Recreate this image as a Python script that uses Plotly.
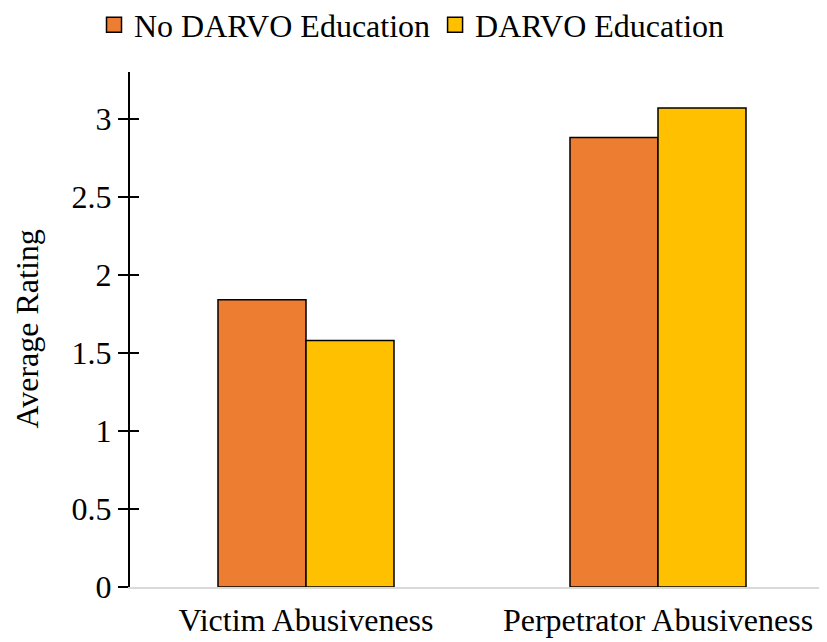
import plotly.graph_objects as go

categories = ["Victim Abusiveness", "Perpetrator Abusiveness"]
no_edu = [1.84, 2.88]
edu = [1.58, 3.07]
series_names = ["No DARVO Education", "DARVO Education"]
colors = ["#ED7D31", "#FFC000"]
tick_vals = [0, 0.5, 1, 1.5, 2, 2.5, 3]
tick_text = ["0", "0.5", "1", "1.5", "2", "2.5", "3"]
y_title = "Average Rating"

FONT = "Liberation Serif, Times New Roman, serif"

fig = go.Figure()
for vals, name, col in zip([no_edu, edu], series_names, colors):
    fig.add_trace(go.Bar(x=categories, y=vals, name=name, showlegend=False,
                         marker=dict(color=col, line=dict(color="black", width=1.5))))
# legend entries with square swatches
for name, col in zip(series_names, colors):
    fig.add_trace(go.Scatter(x=[None], y=[None], mode="markers", name=name,
                             marker=dict(symbol="square", size=15, color=col,
                                         line=dict(color="black", width=1.5))))
# invisible trace to activate the inside-tick axis
fig.add_trace(go.Scatter(x=[categories[0]], y=[0], yaxis="y2", mode="markers",
                         marker=dict(opacity=0), showlegend=False, hoverinfo="skip"))

fig.update_layout(
    width=827, height=642,
    paper_bgcolor="white", plot_bgcolor="white",
    barmode="group", bargap=0.5, bargroupgap=0,
    margin=dict(l=122, r=1, t=64, b=63, pad=0),
    font=dict(family=FONT, size=32, color="black"),
    showlegend=True,
    legend=dict(orientation="h", x=0.104, xanchor="left", xref="container",
                y=0.9735, yanchor="middle", yref="container",
                font=dict(size=32, family=FONT, color="black"),
                itemwidth=30, traceorder="normal", tracegroupgap=0,
                bgcolor="rgba(0,0,0,0)", borderwidth=0),
    xaxis=dict(type="category", range=[-0.5, 1.5], showline=True, linecolor="#D9D9D9",
               linewidth=2, ticks="", showgrid=False, zeroline=False,
               ticklabelstandoff=4, tickfont=dict(size=32, family=FONT)),
    yaxis=dict(range=[0, 3.3], tickvals=tick_vals, ticktext=tick_text,
               showline=True, linecolor="black", linewidth=2,
               ticks="outside", ticklen=10, tickwidth=1.5, tickcolor="black",
               showgrid=False, zeroline=False,
               tickfont=dict(size=32, family=FONT)),
    yaxis2=dict(range=[0, 3.3], tickvals=tick_vals, overlaying="y", side="left",
                showticklabels=False, ticks="inside", ticklen=9, tickwidth=1.5,
                tickcolor="black", showgrid=False, zeroline=False, showline=False),
    annotations=[dict(text=y_title, textangle=-90, xref="paper", yref="paper",
                      x=0, y=0.5, xanchor="center", yanchor="middle", xshift=-104,
                      showarrow=False, font=dict(size=32, family=FONT, color="black"))],
)

fig.write_html("out.html")
